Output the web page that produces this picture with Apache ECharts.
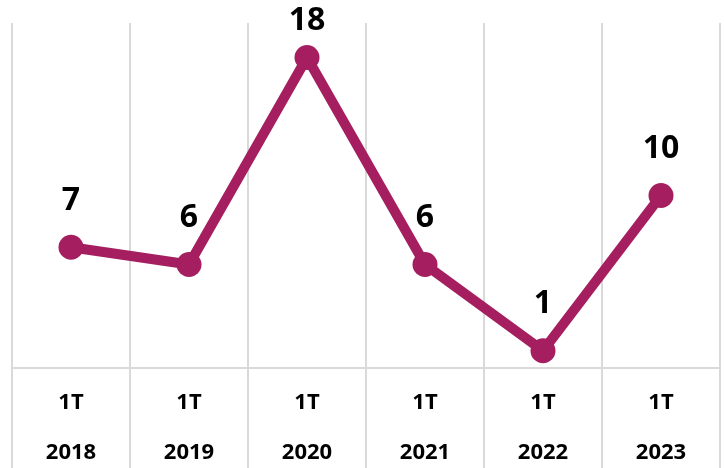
<!DOCTYPE html>
<html><head><meta charset="utf-8">
<script src="https://cdn.jsdelivr.net/npm/echarts@6/dist/echarts.min.js"></script>
<style>html,body{margin:0;padding:0;background:#fff}#c{width:724px;height:468px}</style>
</head><body><div id="c"></div>
<script>
var quarters = ['1T','1T','1T','1T','1T','1T'];
var years = ['2018','2019','2020','2021','2022','2023'];
var values = [7, 6, 18, 6, 1, 10];
var categories = quarters.map(function(q,i){return q + '\n' + years[i];});
var maxVal = Math.max.apply(null, values);
var seriesData = values.map(function(v){
  return v === maxVal ? {value:v, label:{distance:8}} : v;
});
var chart = echarts.init(document.getElementById('c'));
chart.setOption({
  animation:false,
  grid:{left:12,right:4,top:23,bottom:100,containLabel:false,outerBoundsMode:'none'},
  xAxis:{type:'category',data:categories,boundaryGap:true,
    axisLine:{show:true,lineStyle:{color:'#d9d9d9',width:2}},
    axisTick:{show:true,length:100,lineStyle:{color:'#d9d9d9',width:2}},
    splitLine:{show:true,lineStyle:{color:'#d9d9d9',width:2}},
    axisLabel:{margin:10,fontFamily:'Open Sans',fontWeight:'bold',fontSize:22,color:'#000',lineHeight:50}
  },
  yAxis:{type:'value',min:0,max:20,show:false,splitLine:{show:false}},
  series:[{type:'line',data:seriesData,symbol:'circle',symbolSize:25,
    lineStyle:{color:'#A51E5F',width:10},itemStyle:{color:'#A51E5F'},
    label:{show:true,position:'top',distance:18,fontFamily:'Open Sans',fontWeight:'bold',fontSize:32,color:'#000'}
  }]
});
</script></body></html>
